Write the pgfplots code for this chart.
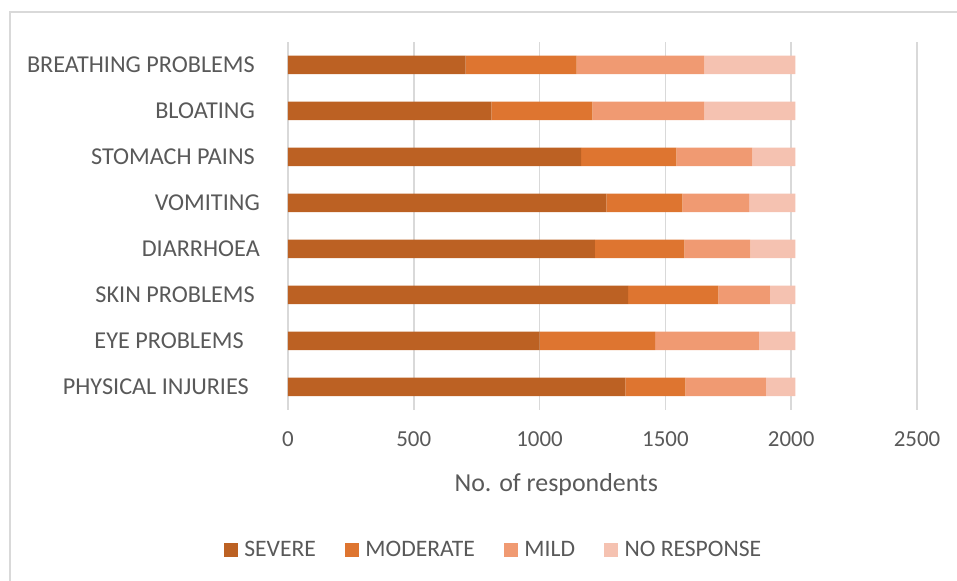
\documentclass[border=0pt]{standalone}
\usepackage{fontspec}
\setmainfont{Carlito}
\usepackage{pgfplots}
\usepackage{pgfplotstable}
\pgfplotsset{compat=1.18}
\definecolor{sev}{HTML}{BC6123}
\definecolor{mod}{HTML}{DE7530}
\definecolor{mild}{HTML}{F09A72}
\definecolor{nr}{HTML}{F5C2B1}
\definecolor{txt}{HTML}{595959}
\definecolor{gridc}{HTML}{D9D9D9}
\pgfplotstableread{
y sev mod mild nr
0 1341 238 320 118
1 1000 459 413 145
2 1352 359 204 102
3 1220 355 263 179
4 1265 302 266 184
5 1165 379 302 171
6 808 402 445 362
7 706 441 508 362
}\datatable
\begin{document}
\begin{tikzpicture}[x=1bp,y=1bp]
\path[use as bounding box] (-288,-171) rectangle (669,410);
\draw[gridc, line width=1.2bp] (-278,-171) -- (-278,398) -- (669,398);
\begin{axis}[
  at={(0bp,0bp)}, anchor=south west,
  scale only axis, width=629bp, height=368bp,
  xbar stacked, bar width=18.5bp,
  xmin=0, xmax=2500, ymin=-0.5, ymax=7.5,
  xtick={0,500,...,2500}, ytick={0,...,7},
  yticklabels={PHYSICAL INJURIES\kern6bp,EYE PROBLEMS\kern11bp,SKIN PROBLEMS,DIARRHOEA\kern-5bp,VOMITING\kern-5bp,STOMACH PAINS,BLOATING,BREATHING PROBLEMS},
  axis line style={draw=none}, tick style={draw=none},
  xmajorgrids, major grid style={gridc, line width=1.5bp},
  /pgf/number format/assume math mode=true,
  /pgf/number format/1000 sep={},
  xticklabel style={font=\fontsize{23}{27}\selectfont, text=txt, anchor=base, yshift=-37bp},
  yticklabel style={font=\fontsize{24.3}{28}\selectfont, text=txt, anchor=base east, inner sep=0pt, xshift=-33bp, yshift=-7.8bp},
  xlabel={No. of respondents},
  xlabel style={font=\fontsize{26}{30}\selectfont, text=txt, at={(axis description cs:0.4265,0)}, anchor=base, yshift=-81bp},
  legend style={draw=none, font=\fontsize{23.7}{28}\selectfont, text=txt,
    at={(axis description cs:0.3267,0)}, anchor=center, yshift=-140bp,
    legend columns=4,
    /tikz/every odd column/.append style={column sep=4.5bp},
    /tikz/every even column/.append style={column sep=27bp},
    inner sep=0pt},
  legend image code/.code={\fill[#1] (0bp,-7bp) rectangle (14bp,7bp);},
  legend cell align=left,
]
\addplot[fill=sev, draw=none] table[x=sev, y=y] {\datatable};
\addplot[fill=mod, draw=none] table[x=mod, y=y] {\datatable};
\addplot[fill=mild, draw=none] table[x=mild, y=y] {\datatable};
\addplot[fill=nr, draw=none] table[x=nr, y=y] {\datatable};
\legend{SEVERE,MODERATE,MILD,NO RESPONSE}
\end{axis}
\end{tikzpicture}
\end{document}
